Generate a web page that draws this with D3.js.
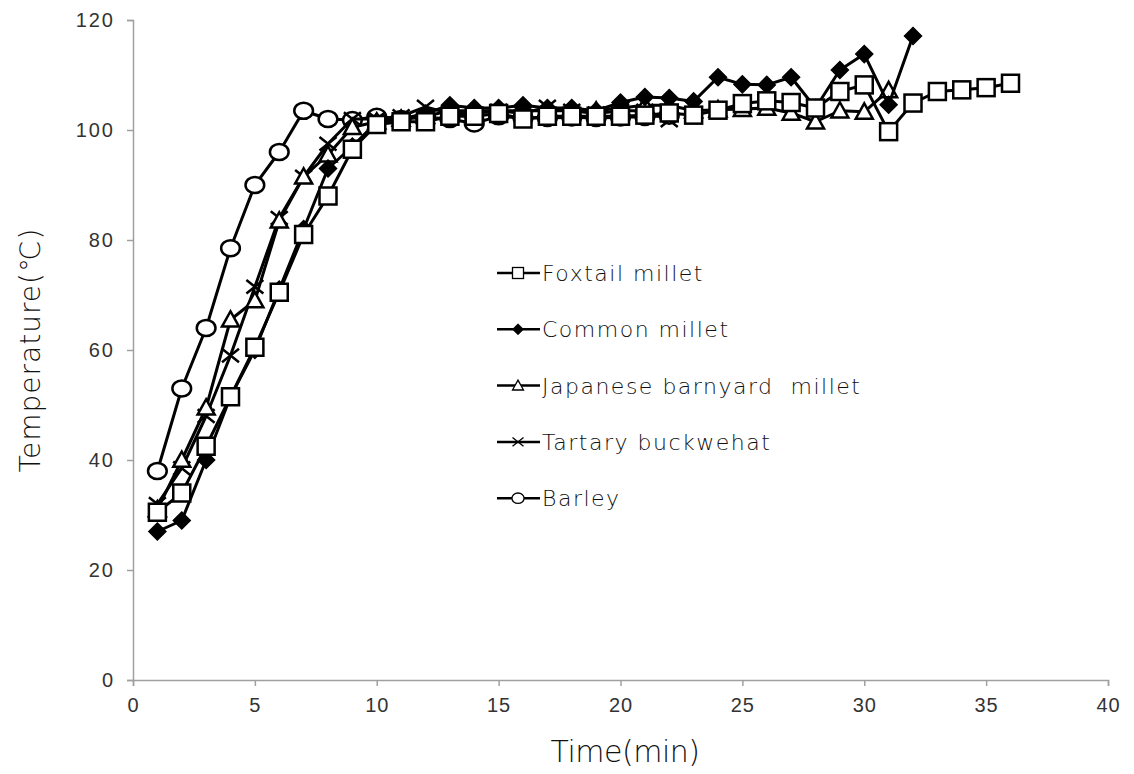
<!DOCTYPE html>
<html>
<head>
<meta charset="utf-8">
<script src="https://cdn.jsdelivr.net/npm/d3@7/dist/d3.min.js"></script>
<style>
  html, body { margin: 0; padding: 0; background: #fff; }
  svg { display: block; font-family: "Century Gothic", "DejaVu Sans", sans-serif; }
  .light { font-weight: 200; }
</style>
</head>
<body>
<svg id="chart" width="1134" height="774"></svg>
<script>
// Heating time (min) and measured temperature (°C) for each grain
const foxtailTime = d3.range(1, 37);
const foxtailTemp = [30.5, 34, 42.5, 51.5, 60.5, 70.5, 81, 88, 96.5, 101,
  101.5, 101.5, 102.5, 102.5, 103, 102, 102.5, 102.5, 102.5, 102.5,
  102.7, 103.1, 102.7, 103.6, 104.8, 105.3, 105, 104, 107, 108.2,
  99.7, 104.9, 107, 107.3, 107.7, 108.5];

const commonTime = d3.range(1, 33);
const commonTemp = [27, 29, 40, 51.5, 60, 71, 82, 93, 97, 101.5,
  102, 103, 104.5, 104, 104, 104.5, 104, 104, 103.5, 105,
  106, 105.8, 105.2, 109.6, 108.3, 108.2, 109.6, 104, 110.9, 113.8,
  104.6, 117.1];

const japaneseTime = d3.range(1, 32);
const japaneseTemp = [31, 40, 49.5, 65.5, 69, 83.5, 91.5, 95.5, 100.5, 101.5,
  102, 102.5, 103.5, 103.5, 103.5, 103.5, 103.5, 103.5, 103.5, 104,
  104.5, 104.5, 103.5, 103.7, 103.8, 104, 103.1, 101.5, 103.5, 103.3,
  107.2];

const tartaryTime = d3.range(1, 23);
const tartaryTemp = [32, 38.5, 48, 59, 71.5, 84, 91.5, 97.5, 102, 102,
  102.5, 104.2, 103, 103, 103.5, 103, 104.2, 103.5, 103, 103.5,
  103.5, 101.8];

const barleyTime = d3.range(1, 23);
const barleyTemp = [38, 53, 64, 78.5, 90, 96, 103.5, 102, 101.8, 102.4,
  102, 102.3, 102, 101.2, 102.5, 102.2, 102.2, 102.3, 102.2, 102.3,
  102.4, 102.6];

const seriesNames = ["Foxtail millet", "Common millet", "Japanese barnyard  millet", "Tartary buckwehat", "Barley"];
const seriesMarkers = ["square", "diamond", "triangle", "cross", "circle"];

const xTicks = [0, 5, 10, 15, 20, 25, 30, 35, 40];
const yTicks = [0, 20, 40, 60, 80, 100, 120];

const series = [
  { name: seriesNames[0], marker: seriesMarkers[0], x: foxtailTime, y: foxtailTemp },
  { name: seriesNames[1], marker: seriesMarkers[1], x: commonTime, y: commonTemp },
  { name: seriesNames[2], marker: seriesMarkers[2], x: japaneseTime, y: japaneseTemp },
  { name: seriesNames[3], marker: seriesMarkers[3], x: tartaryTime, y: tartaryTemp },
  { name: seriesNames[4], marker: seriesMarkers[4], x: barleyTime, y: barleyTemp }
];

const svg = d3.select("#chart");
const plot = { left: 133, right: 1108, top: 20, bottom: 680 };

const x = d3.scaleLinear().domain([0, 40]).range([plot.left, plot.right]);
const y = d3.scaleLinear().domain([0, 120]).range([plot.bottom, plot.top]);

const axisColor = "#a0a0a0";
const textColor = "#333";

// Y axis
const yAxis = svg.append("g")
  .attr("transform", `translate(${plot.left},0)`)
  .call(d3.axisLeft(y).tickValues(yTicks).tickSize(6).tickPadding(12));
yAxis.select(".domain").attr("stroke", axisColor).attr("stroke-width", 1.5);
yAxis.selectAll(".tick line").attr("stroke", axisColor).attr("stroke-width", 1.5);
yAxis.selectAll(".tick text").attr("class", "light")
  .attr("fill", textColor).style("font-size", "20px").style("letter-spacing", "2px");

// X axis
const xAxis = svg.append("g")
  .attr("transform", `translate(0,${plot.bottom})`)
  .call(d3.axisBottom(x).tickValues(xTicks).tickSize(6).tickPadding(12));
xAxis.select(".domain").attr("stroke", axisColor).attr("stroke-width", 1.5);
xAxis.selectAll(".tick line").attr("stroke", axisColor).attr("stroke-width", 1.5);
xAxis.selectAll(".tick text").attr("class", "light")
  .attr("fill", textColor).style("font-size", "20px").style("letter-spacing", "1px");

// Axis titles
svg.append("text")
  .attr("class", "light")
  .attr("x", 625)
  .attr("y", 762)
  .attr("text-anchor", "middle")
  .attr("fill", "#111")
  .style("font-size", "30px")
  .style("letter-spacing", "-0.5px")
  .text("Time(min)");

svg.append("text")
  .attr("class", "light")
  .attr("transform", "translate(40,350) rotate(-90)")
  .attr("text-anchor", "middle")
  .attr("fill", "#111")
  .style("font-size", "28px")
  .style("letter-spacing", "1px")
  .text("Temperature(℃)");

// Marker drawing
function drawMarker(g, type, size, sw) {
  const h = size / 2;
  if (type === "square") {
    g.append("rect").attr("x", -h).attr("y", -h).attr("width", size).attr("height", size)
      .attr("fill", "#fff").attr("stroke", "#000").attr("stroke-width", sw);
  } else if (type === "diamond") {
    g.append("path").attr("d", `M0,${-h}L${h},0L0,${h}L${-h},0Z`)
      .attr("fill", "#000").attr("stroke", "#000").attr("stroke-width", sw * 0.6);
  } else if (type === "triangle") {
    g.append("path").attr("d", `M0,${-h}L${h},${h * 0.8}L${-h},${h * 0.8}Z`)
      .attr("fill", "#fff").attr("stroke", "#000").attr("stroke-width", sw);
  } else if (type === "cross") {
    g.append("path").attr("d", `M${-h},${-h * 0.8}L${h},${h * 0.8}M${-h},${h * 0.8}L${h},${-h * 0.8}`)
      .attr("fill", "none").attr("stroke", "#000").attr("stroke-width", sw);
  } else if (type === "circle") {
    g.append("ellipse").attr("rx", h * 1.1).attr("ry", h * 0.95)
      .attr("fill", "#fff").attr("stroke", "#000").attr("stroke-width", sw);
  }
}

const line = d3.line().x(d => x(d[0])).y(d => y(d[1]));

// Lines and markers (drawn in reverse so foxtail millet sits on top)
series.slice().reverse().forEach(s => {
  const pts = s.x.map((t, i) => [t, s.y[i]]);
  const g = svg.append("g");
  g.append("path").datum(pts)
    .attr("d", line)
    .attr("fill", "none")
    .attr("stroke", "#000")
    .attr("stroke-width", 3)
    .attr("stroke-linejoin", "round");
  pts.forEach(p => {
    const m = g.append("g").attr("transform", `translate(${x(p[0])},${y(p[1])})`);
    drawMarker(m, s.marker, 17, 2.5);
  });
});

// Legend
const legend = svg.append("g");
const legendX = 497, legendY0 = 273, legendStep = 56.3;
series.forEach((s, i) => {
  const ly = legendY0 + i * legendStep;
  const row = legend.append("g").attr("transform", `translate(${legendX},${ly})`);
  row.append("line").attr("x1", 0).attr("x2", 43).attr("y1", 0).attr("y2", 0)
    .attr("stroke", "#000").attr("stroke-width", 2.5);
  const m = row.append("g").attr("transform", "translate(21,0)");
  drawMarker(m, s.marker, 11, 1.3);
  row.append("text")
    .attr("class", "light")
    .attr("x", 45).attr("y", 8)
    .attr("fill", "#111")
    .style("font-size", "22px")
    .style("letter-spacing", "1.5px")
    .attr("xml:space", "preserve")
    .text(s.name);
});
</script>
</body>
</html>
